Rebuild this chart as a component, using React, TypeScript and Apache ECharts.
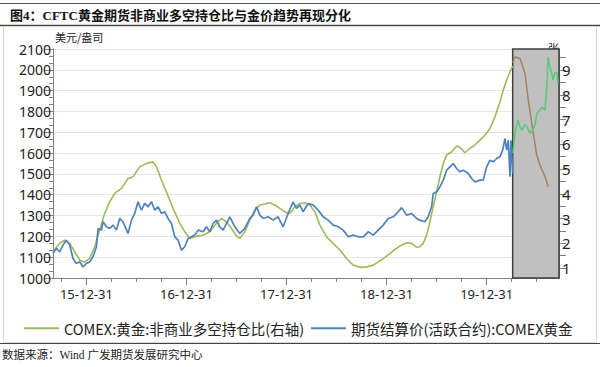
import React, { useEffect, useRef } from "react";
import * as echarts from "echarts";

// x values are fractional years: 2016.0 = 15-12-31
const xMin = 2015.666;
const xMax = 2020.723;
const boxStart = 2020.26;

const yearLabels = [2016, 2017, 2018, 2019, 2020];
const quarterTicks = [
  2015.75, 2016, 2016.25, 2016.5, 2016.75, 2017, 2017.25, 2017.5, 2017.75, 2018,
  2018.25, 2018.5, 2018.75, 2019, 2019.25, 2019.5, 2019.75, 2020, 2020.25, 2020.5,
];
const rightLabels = [1, 2, 3, 4, 5, 6, 7, 8, 9];
const rightTicks = [1, 1.5, 2, 2.5, 3, 3.5, 4, 4.5, 5, 5.5, 6, 6.5, 7, 7.5, 8, 8.5, 9, 9.5];

const goldYears = [
  2015.666, 2015.7, 2015.733, 2015.766, 2015.8, 2015.833, 2015.866, 2015.9, 2015.933, 2015.966,
  2016.0, 2016.033, 2016.066, 2016.1, 2016.116, 2016.15, 2016.166, 2016.2, 2016.233, 2016.266,
  2016.3, 2016.333, 2016.366, 2016.416, 2016.45, 2016.483, 2016.516, 2016.55, 2016.583, 2016.616,
  2016.65, 2016.683, 2016.716, 2016.75, 2016.783, 2016.816, 2016.85, 2016.883, 2016.916, 2016.95,
  2016.983, 2017.016, 2017.05, 2017.083, 2017.116, 2017.166, 2017.2, 2017.233, 2017.266, 2017.3,
  2017.333, 2017.366, 2017.4, 2017.433, 2017.483, 2017.533, 2017.583, 2017.633, 2017.666, 2017.7,
  2017.733, 2017.766, 2017.816, 2017.866, 2017.916, 2017.966, 2018.016, 2018.066, 2018.1, 2018.133,
  2018.166, 2018.216, 2018.266, 2018.316, 2018.366, 2018.416, 2018.466, 2018.516, 2018.566, 2018.616,
  2018.666, 2018.716, 2018.766, 2018.816, 2018.866, 2018.916, 2018.966, 2019.016, 2019.066, 2019.116,
  2019.15, 2019.2, 2019.25, 2019.3, 2019.333, 2019.383, 2019.416, 2019.45, 2019.466, 2019.5,
  2019.533, 2019.566, 2019.6, 2019.633, 2019.666, 2019.7, 2019.733, 2019.766, 2019.816, 2019.85,
  2019.883, 2019.933, 2019.966, 2020.0, 2020.033, 2020.066, 2020.1, 2020.133, 2020.16, 2020.183,
  2020.2, 2020.216, 2020.233, 2020.243, 2020.26,
];
const goldPrice = [
  1119, 1142, 1126, 1158, 1182, 1158, 1094, 1070, 1078, 1053,
  1070, 1078, 1102, 1150, 1238, 1230, 1270, 1246, 1238, 1254,
  1230, 1286, 1270, 1214, 1278, 1310, 1366, 1326, 1358, 1342,
  1366, 1326, 1342, 1310, 1318, 1286, 1262, 1198, 1182, 1134,
  1150, 1190, 1198, 1206, 1230, 1222, 1246, 1222, 1262, 1278,
  1246, 1230, 1262, 1294, 1246, 1214, 1238, 1286, 1302, 1342,
  1302, 1286, 1294, 1278, 1294, 1246, 1310, 1366, 1334, 1350,
  1318, 1358, 1350, 1326, 1294, 1278, 1254, 1246, 1230, 1198,
  1206, 1198, 1198, 1222, 1206, 1230, 1254, 1286, 1294, 1318,
  1338, 1302, 1310, 1286, 1278, 1270, 1294, 1342, 1406, 1414,
  1438, 1470, 1518, 1534, 1550, 1526, 1510, 1518, 1502, 1478,
  1462, 1470, 1470, 1534, 1566, 1558, 1574, 1582, 1614, 1670,
  1614, 1662, 1486, 1662, 1502,
];

const ratioYears = [
  2015.666, 2015.733, 2015.783, 2015.833, 2015.883, 2015.933, 2015.983, 2016.033, 2016.083, 2016.133,
  2016.183, 2016.233, 2016.283, 2016.35, 2016.416, 2016.466, 2016.533, 2016.6, 2016.666, 2016.7,
  2016.75, 2016.8, 2016.866, 2016.933, 2016.983, 2017.033, 2017.1, 2017.166, 2017.233, 2017.3,
  2017.35, 2017.4, 2017.45, 2017.5, 2017.533, 2017.583, 2017.633, 2017.683, 2017.733, 2017.783,
  2017.833, 2017.883, 2017.933, 2017.983, 2018.033, 2018.083, 2018.133, 2018.183, 2018.233, 2018.283,
  2018.333, 2018.4, 2018.466, 2018.533, 2018.6, 2018.666, 2018.733, 2018.8, 2018.866, 2018.933,
  2019.0, 2019.066, 2019.133, 2019.2, 2019.25, 2019.3, 2019.333, 2019.366, 2019.4, 2019.433,
  2019.466, 2019.5, 2019.533, 2019.566, 2019.6, 2019.65, 2019.7, 2019.733, 2019.783, 2019.833,
  2019.883, 2019.933, 2019.983, 2020.033, 2020.083, 2020.133, 2020.166, 2020.206, 2020.24, 2020.26,
];
const ratioValues = [
  1.66, 2.0, 2.13, 2.0, 1.66, 1.32, 1.25, 1.39, 1.86, 2.54,
  3.21, 3.68, 4.02, 4.22, 4.62, 4.69, 5.09, 5.23, 5.29, 5.09,
  4.56, 4.08, 3.41, 2.81, 2.47, 2.2, 2.29, 2.33, 2.47, 2.81,
  3.01, 2.87, 2.6, 2.29, 2.2, 2.47, 2.94, 3.34, 3.55, 3.59,
  3.64, 3.55, 3.41, 3.27, 3.21, 3.48, 3.61, 3.64, 3.55, 3.27,
  2.74, 2.26, 2.0, 1.73, 1.39, 1.12, 1.03, 1.05, 1.12, 1.29,
  1.48, 1.7, 1.89, 2.02, 2.0, 1.84, 1.86, 2.0, 2.33, 2.87,
  3.48, 4.08, 4.69, 5.23, 5.57, 5.7, 5.93, 5.88, 5.66, 5.84,
  5.97, 6.17, 6.37, 6.64, 7.11, 7.72, 8.19, 8.66, 9.0, 9.16,
];

const boxBrownYears = [2020.26, 2020.283, 2020.333, 2020.383, 2020.416, 2020.466, 2020.5, 2020.533, 2020.583, 2020.616];
const boxBrownValues = [9.3, 9.53, 9.47, 8.87, 7.79, 6.44, 5.57, 5.16, 4.69, 4.29];

const boxGreenYears = [
  2020.263, 2020.283, 2020.313, 2020.333, 2020.353, 2020.383, 2020.403, 2020.433, 2020.463, 2020.483,
  2020.503, 2020.533, 2020.553, 2020.583, 2020.603, 2020.613, 2020.633, 2020.653, 2020.663, 2020.683,
  2020.703, 2020.713,
];
const boxGreenValues = [
  5.65, 6.45, 6.98, 6.7, 6.58, 6.8, 6.7, 6.45, 6.6, 6.78,
  7.26, 7.4, 7.5, 7.38, 8.47, 9.53, 9.12, 8.8, 8.6, 8.9,
  8.88, 8.47,
];

const zip = (xs: number[], ys: number[]) => xs.map((x, i) => [x, ys[i]]);

const SANS = "'Noto Sans CJK SC', 'Noto Sans', sans-serif";
const LABEL = "'Noto Sans', 'Noto Sans CJK SC', sans-serif";
const SERIF = "'Liberation Serif', 'Noto Sans CJK SC', serif";

export default function App() {
  const ref = useRef<HTMLDivElement>(null);
  useEffect(() => {
    if (!ref.current) return;
    const chart = echarts.init(ref.current, undefined, { renderer: "svg" });
    const axisGray = "#808080";
    chart.setOption({
      animation: false,
      backgroundColor: "#ffffff",
      grid: { left: 53, right: 41, top: 49, bottom: 89 },
      legend: {
        left: 19,
        top: 316,
        icon: "rect",
        itemWidth: 35,
        itemHeight: 2,
        itemGap: 7,
        textStyle: { fontFamily: SANS, fontSize: 14.5, color: "#222" },
        data: ["COMEX:黄金:非商业多空持仓比(右轴)", "期货结算价(活跃合约):COMEX黄金"],
      },
      xAxis: [
        {
          type: "value",
          min: xMin,
          max: xMax,
          axisLine: { lineStyle: { color: axisGray } },
          axisTick: { show: true, customValues: yearLabels, length: 7, lineStyle: { color: axisGray } },
          axisLabel: {
            customValues: yearLabels,
            fontFamily: LABEL,
            fontSize: 13,
            color: "#222",
            margin: 9,
            formatter: (v: number) => `${String(Math.round(v) - 1).slice(2)}-12-31`,
          },
          splitLine: { show: false },
        },
        {
          type: "value",
          min: xMin,
          max: xMax,
          position: "bottom",
          axisLine: { show: false },
          axisTick: { show: true, customValues: quarterTicks, length: 4, lineStyle: { color: axisGray } },
          axisLabel: { show: false },
          splitLine: { show: false },
        },
      ],
      yAxis: [
        {
          type: "value",
          min: 1000,
          max: 2100,
          interval: 100,
          name: "美元/盎司",
          nameLocation: "end",
          nameGap: 1,
          nameTextStyle: { fontFamily: SANS, fontSize: 11, color: "#222", align: "left", verticalAlign: "middle", padding: [0, 0, 0, 2] },
          axisLine: { show: true, lineStyle: { color: axisGray } },
          axisTick: { show: true, length: 8, lineStyle: { color: axisGray } },
          minorTick: { show: true, splitNumber: 3, length: 4, lineStyle: { color: axisGray } },
          axisLabel: { fontFamily: LABEL, fontSize: 14, color: "#222", margin: 2, formatter: (v: number) => String(v) },
          splitLine: { show: true, lineStyle: { color: "#e6e6e6" } },
        },
        {
          type: "value",
          min: 0.6,
          max: 9.85,
          position: "right",
          name: "张",
          nameLocation: "end",
          nameGap: 1,
          nameTextStyle: { fontFamily: SANS, fontSize: 11, color: "#222", align: "right", verticalAlign: "middle" },
          axisLine: { show: true, lineStyle: { color: axisGray } },
          axisTick: { show: true, customValues: rightTicks, length: 7, lineStyle: { color: axisGray } },
          axisLabel: { customValues: rightLabels, fontFamily: LABEL, fontSize: 15, color: "#222", margin: 3 },
          splitLine: { show: false },
        },
      ],
      series: [
        {
          name: "COMEX:黄金:非商业多空持仓比(右轴)",
          type: "line",
          xAxisIndex: 0,
          yAxisIndex: 1,
          data: zip(ratioYears, ratioValues),
          showSymbol: false,
          color: "#9BBB59",
          lineStyle: { width: 1.6, color: "#9BBB59" },
          markArea: {
            silent: true,
            itemStyle: { color: "#c0c0c0", borderColor: "#3f3f3f", borderWidth: 1.5 },
            data: [[{ xAxis: boxStart }, { xAxis: xMax }]],
          },
          z: 2,
        },
        {
          name: "期货结算价(活跃合约):COMEX黄金",
          type: "line",
          xAxisIndex: 0,
          yAxisIndex: 0,
          data: zip(goldYears, goldPrice),
          showSymbol: false,
          color: "#4F81BD",
          lineStyle: { width: 1.7, color: "#4F81BD" },
          z: 3,
        },
        {
          name: "box-ratio",
          type: "line",
          xAxisIndex: 0,
          yAxisIndex: 1,
          data: zip(boxBrownYears, boxBrownValues),
          showSymbol: false,
          lineStyle: { width: 1.5, color: "#a6805f" },
          z: 4,
        },
        {
          name: "box-gold",
          type: "line",
          xAxisIndex: 0,
          yAxisIndex: 1,
          data: zip(boxGreenYears, boxGreenValues),
          showSymbol: false,
          lineStyle: { width: 1.6, color: "#5cc878" },
          z: 4,
        },
      ],
      graphic: [
        { type: "line", shape: { x1: 0, y1: 3.5, x2: 600, y2: 3.5 }, style: { stroke: "#555", lineWidth: 1 } },
        { type: "line", shape: { x1: 0, y1: 25.5, x2: 600, y2: 25.5 }, style: { stroke: "#444", lineWidth: 1.5 } },
        {
          type: "text",
          x: 10,
          y: 15,
          style: {
            text: "图4：CFTC黄金期货非商业多空持仓比与金价趋势再现分化",
            font: `bold 13px ${SERIF}`,
            fill: "#111",
            verticalAlign: "middle",
          },
        },
        { type: "rect", shape: { x: 3.5, y: 26.5, width: 593, height: 316 }, style: { fill: "none", stroke: "#d9d9d9", lineWidth: 1 } },
        { type: "line", shape: { x1: 0, y1: 343.5, x2: 600, y2: 343.5 }, style: { stroke: "#444", lineWidth: 1.2 } },
        {
          type: "text",
          x: 2,
          y: 355,
          style: {
            text: "数据来源：Wind 广发期货发展研究中心",
            font: `11.5px ${SERIF}`,
            fill: "#222",
            verticalAlign: "middle",
          },
        },
      ],
    });
    return () => chart.dispose();
  }, []);
  return <div ref={ref} style={{ position: "fixed", left: 0, top: 0, width: 600, height: 367 }} />;
}
